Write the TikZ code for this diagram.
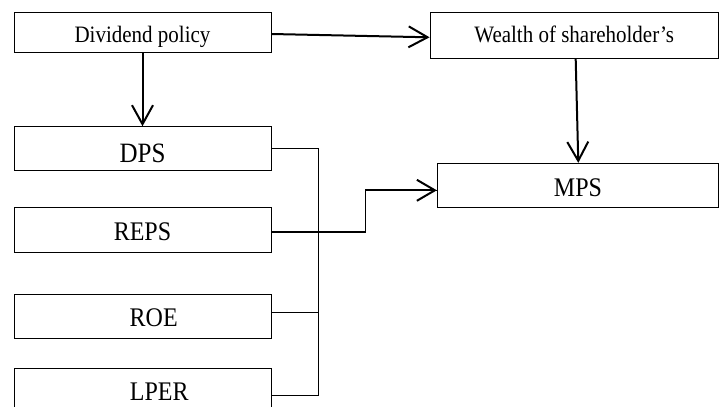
\documentclass[tikz,border=0pt]{standalone}
\usepackage{fontspec}
\usepackage{graphicx}
\setmainfont{Liberation Serif}
\usetikzlibrary{arrows.meta,calc}
\newcommand\vstr[1]{\scalebox{1}[1.12]{#1}}
\begin{document}
\begin{tikzpicture}[x=1pt,y=-1pt,
  box/.style={draw=black,line width=0.9pt,rectangle,inner sep=0pt,text depth=0pt},
  topfont/.style={font=\fontsize{21}{21}\selectfont},
  lowfont/.style={font=\fontsize{24}{24}\selectfont},
  bigarrow/.style={line width=2pt,-{Straight Barb[length=19pt,width=21pt,line width=2pt]}},
  link/.style={line width=1.1pt},
  midarrow/.style={line width=1.7pt,-{Straight Barb[length=18pt,width=21pt,line width=2pt]}}]
\clip (0,0) rectangle (721,407);
\fill[white] (0,0) rectangle (721,407);
\node[box,topfont,minimum width=257pt,minimum height=40pt,text height=19.2pt] (div) at (142.5,32.7) {\vstr{Dividend policy}};
\node[box,topfont,minimum width=288.3pt,minimum height=46pt,text height=14pt] (wealth) at (574.2,35.7) {\vstr{Wealth of shareholder’s}};
\node[box,font=\fontsize{25}{25}\selectfont,minimum width=257pt,minimum height=43.6pt,text height=27pt] (dps) at (142.5,148.5) {\vstr{DPS}};
\node[box,lowfont,minimum width=257pt,minimum height=44.3pt,text height=20.3pt] (reps) at (142.5,229.85) {\vstr{REPS}};
\node[box,lowfont,minimum width=257pt,minimum height=44pt,text height=18.6pt] (roe) at (142.5,316.7) {\hspace{22.4pt}\vstr{ROE}};
\node[box,lowfont,minimum width=257pt,minimum height=44pt,text height=19.2pt] (lper) at (142.5,390.7) {\hspace{33.4pt}\vstr{LPER}};
\node[box,lowfont,minimum width=281.4pt,minimum height=44.4pt,text height=21pt] (mps) at (578,185.5) {\vstr{MPS}};
% arrows
\draw[bigarrow] ([yshift=-1.3pt]div.east) -- ([yshift=-1.6pt]wealth.west);
\draw[bigarrow] (div.south) -- (dps.north);
\draw[bigarrow] ([xshift=1.5pt]wealth.south) -- ([xshift=0.3pt]mps.north);
% bus
\draw[link] (dps.east) -- ++(47.3,0) coordinate (bustop);
\coordinate (lperout) at ([yshift=-4.6pt]lper.east);
\coordinate (roeout) at ([yshift=4pt]roe.east);
\coordinate (mpsin) at ([yshift=-4.8pt]mps.west);
\draw[link] (lperout) -| (bustop);
\draw[link] (roeout) -- (roeout -| bustop);
\draw[link] ([yshift=-2.15pt]reps.east) -- ++(94,0) coordinate (rise) |- (mpsin) coordinate[pos=0.5] (bend);
\draw[midarrow] (bend) -- (mpsin);
\end{tikzpicture}
\end{document}
